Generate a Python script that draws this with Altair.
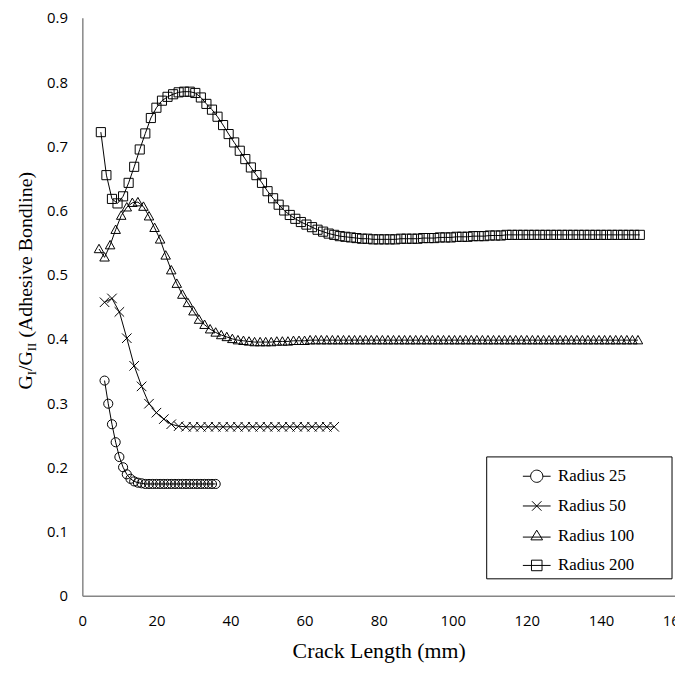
import altair as alt
import pandas as pd

names = ["Radius 25", "Radius 50", "Radius 100", "Radius 200"]

r25_x = [6, 7, 8, 9, 10, 11, 12, 13, 14, 15, 16, 17, 18, 19, 20, 21, 22, 23, 24, 25,
         26, 27, 28, 29, 30, 31, 32, 33, 34, 35, 36]
r25_y = [0.335, 0.299, 0.267, 0.239, 0.216, 0.200, 0.189, 0.182, 0.178, 0.176,
         0.175, 0.174, 0.174, 0.174, 0.174, 0.174, 0.174, 0.174, 0.174, 0.174,
         0.174, 0.174, 0.174, 0.174, 0.174, 0.174, 0.174, 0.174, 0.174, 0.174, 0.174]

r50_x = [6, 8, 10, 12, 14, 16, 18, 20, 22, 24, 26, 28, 30, 32, 34, 36, 38, 40, 42, 44,
         46, 48, 50, 52, 54, 56, 58, 60, 62, 64, 66, 68]
r50_y = [0.457, 0.463, 0.442, 0.401, 0.358, 0.326, 0.299, 0.285, 0.275, 0.267,
         0.264, 0.263, 0.263, 0.263, 0.263, 0.263, 0.263, 0.263, 0.263, 0.263,
         0.263, 0.263, 0.263, 0.263, 0.263, 0.263, 0.263, 0.263, 0.263, 0.263,
         0.263, 0.263]

r100_x = [4.5, 6, 7.5, 9, 10.5, 12, 13.5, 15, 16.5, 18,
          19.5, 21, 22.5, 24, 25.5, 27, 28.5, 30, 31.5, 33,
          34.5, 36, 37.5, 39, 40.5, 42, 43.5, 45, 46.5, 48,
          49.5, 51, 52.5, 54, 55.5, 57, 58.5, 60, 61.5, 63,
          64.5, 66, 67.5, 69, 70.5, 72, 73.5, 75, 76.5, 78,
          79.5, 81, 82.5, 84, 85.5, 87, 88.5, 90, 91.5, 93,
          94.5, 96, 97.5, 99, 100.5, 102, 103.5, 105, 106.5, 108,
          109.5, 111, 112.5, 114, 115.5, 117, 118.5, 120, 121.5, 123,
          124.5, 126, 127.5, 129, 130.5, 132, 133.5, 135, 136.5, 138,
          139.5, 141, 142.5, 144, 145.5, 147, 148.5, 150]
r100_y = [0.540, 0.527, 0.546, 0.570, 0.592, 0.605, 0.612, 0.613, 0.606, 0.591,
          0.573, 0.555, 0.530, 0.507, 0.486, 0.469, 0.456, 0.443, 0.430, 0.422,
          0.415, 0.410, 0.406, 0.403, 0.400, 0.398, 0.397, 0.396, 0.395, 0.395,
          0.395, 0.395, 0.396, 0.396, 0.396, 0.397, 0.397, 0.397, 0.398, 0.398,
          0.398, 0.398, 0.398, 0.398, 0.398, 0.398, 0.398, 0.398, 0.398, 0.398,
          0.398, 0.398, 0.398, 0.398, 0.398, 0.398, 0.398, 0.398, 0.398, 0.398,
          0.398, 0.398, 0.398, 0.398, 0.398, 0.398, 0.398, 0.398, 0.398, 0.398,
          0.398, 0.398, 0.398, 0.398, 0.398, 0.398, 0.398, 0.398, 0.398, 0.398,
          0.398, 0.398, 0.398, 0.398, 0.398, 0.398, 0.398, 0.398, 0.398, 0.398,
          0.398, 0.398, 0.398, 0.398, 0.398, 0.398, 0.398, 0.398]

r200_x = [5, 6.5, 8, 9.5, 11, 12.5, 14, 15.5, 17, 18.5,
          20, 21.5, 23, 24.5, 26, 27.5, 29, 30.5, 32, 33.5,
          35, 36.5, 38, 39.5, 41, 42.5, 44, 45.5, 47, 48.5,
          50, 51.5, 53, 54.5, 56, 57.5, 59, 60.5, 62, 63.5,
          65, 66.5, 68, 69.5, 71, 72.5, 74, 75.5, 77, 78.5,
          80, 81.5, 83, 84.5, 86, 87.5, 89, 90.5, 92, 93.5,
          95, 96.5, 98, 99.5, 101, 102.5, 104, 105.5, 107, 108.5,
          110, 111.5, 113, 114.5, 116, 117.5, 119, 120.5, 122, 123.5,
          125, 126.5, 128, 129.5, 131, 132.5, 134, 135.5, 137, 138.5,
          140, 141.5, 143, 144.5, 146, 147.5, 149, 150.5]
r200_y = [0.722, 0.655, 0.618, 0.611, 0.622, 0.643, 0.668, 0.695, 0.720, 0.744,
          0.760, 0.771, 0.777, 0.781, 0.784, 0.785, 0.785, 0.783, 0.776, 0.766,
          0.757, 0.746, 0.733, 0.719, 0.706, 0.693, 0.680, 0.667, 0.655, 0.643,
          0.630, 0.619, 0.609, 0.600, 0.593, 0.587, 0.582, 0.578, 0.574, 0.570,
          0.567, 0.564, 0.562, 0.560, 0.559, 0.558, 0.557, 0.556, 0.556, 0.555,
          0.555, 0.555, 0.555, 0.555, 0.556, 0.556, 0.556, 0.556, 0.557, 0.557,
          0.557, 0.558, 0.558, 0.558, 0.559, 0.559, 0.559, 0.560, 0.560, 0.560,
          0.561, 0.561, 0.561, 0.562, 0.562, 0.562, 0.562, 0.562, 0.562, 0.562,
          0.562, 0.562, 0.562, 0.562, 0.562, 0.562, 0.562, 0.562, 0.562, 0.562,
          0.562, 0.562, 0.562, 0.562, 0.562, 0.562, 0.562, 0.562]

x_ticks = [0, 20, 40, 60, 80, 100, 120, 140, 160]
y_ticks = [0, 0.1, 0.2, 0.3, 0.4, 0.5, 0.6, 0.7, 0.8, 0.9]

rows = []
for name, xs, ys in [(names[0], r25_x, r25_y), (names[1], r50_x, r50_y),
                     (names[2], r100_x, r100_y), (names[3], r200_x, r200_y)]:
    for a, b in zip(xs, ys):
        rows.append({"series": name, "x": a, "y": b})
df = pd.DataFrame(rows)

# marker outlines (unit = half of sqrt(size))
data_paths = [
    "M0.92,0A0.92,0.92,0,1,1,-0.92,0A0.92,0.92,0,1,1,0.92,0Z",
    "M-0.96,-0.96L0.96,0.96M-0.96,0.96L0.96,-0.96",
    "M-0.96,0.75L0,-0.95L0.96,0.75Z",
    "M-0.92,-0.92L0.92,-0.92L0.92,0.92L-0.92,0.92Z",
]
legend_paths = [
    "M-1,0L-0.44,0M0.44,0L1,0M0.44,0A0.44,0.44,0,1,1,-0.44,0A0.44,0.44,0,1,1,0.44,0Z",
    "M-1,0L1,0M-0.34,-0.34L0.34,0.34M-0.34,0.34L0.34,-0.34",
    "M-1,0.1L1,0.1M-0.42,0.3L0,-0.4L0.42,0.3Z",
    "M-1,0L1,0M-0.38,-0.38L0.38,-0.38L0.38,0.38L-0.38,0.38Z",
]

xenc = alt.X("x:Q", scale=alt.Scale(domain=[0, 160], nice=False),
             axis=alt.Axis(values=x_ticks, title="Crack Length (mm)", labelFlush=False,
                           labelPadding=18, titlePadding=12))
yenc = alt.Y("y:Q", scale=alt.Scale(domain=[0, 0.9], nice=False),
             axis=alt.Axis(values=y_ticks, title="", format="~g", labelPadding=15))

lines = alt.Chart(df).mark_line(color="black", strokeWidth=1).encode(
    x=xenc, y=yenc, detail="series:N")

points = alt.Chart(df).mark_point(filled=False, size=100, color="black",
                                  opacity=1, strokeWidth=1).encode(
    x=xenc, y=yenc,
    shape=alt.Shape("series:N", scale=alt.Scale(domain=names, range=data_paths), legend=None))

one = pd.DataFrame({"k": [0]})

# framed box behind the legend entries
legend_frame = alt.Chart(one).mark_rect(fill="white", stroke="black", strokeWidth=1).encode(
    x=alt.value(408), x2=alt.value(595), y=alt.value(443), y2=alt.value(566))

legend_layer = alt.Chart(df).transform_filter("false").mark_point(
    filled=False, size=784, color="black", opacity=1, strokeWidth=1).encode(
    x=xenc, y=yenc,
    shape=alt.Shape("series:N", scale=alt.Scale(domain=names, range=legend_paths),
                    legend=alt.Legend(orient="none", legendX=408, legendY=445, title=None,
                                      padding=3, strokeColor="transparent",
                                      fillColor="transparent",
                                      labelFont="Liberation Serif", labelFontSize=17,
                                      labelColor="black", symbolSize=784, labelLimit=300,
                                      symbolStrokeWidth=1, symbolStrokeColor="black",
                                      symbolOffset=33, labelOffset=7, rowPadding=7)))

TX, TY = -51, 375


def seg(txt, dx, dy, size):
    return alt.Chart(one).mark_text(text=txt, angle=270, align="left", baseline="alphabetic",
                                    dx=dx, dy=dy, font="Liberation Serif", fontSize=size,
                                    color="black").encode(x=alt.value(TX), y=alt.value(TY))


title_layers = [
    seg("G", 0, 0, 20),
    seg("I", 14.4, 4, 13),
    seg("/G", 18.7, 0, 20),
    seg("II", 38.7, 4, 13),
    seg("(Adhesive Bondline)", 52.4, 0, 20),
]

chart = alt.layer(lines, points, legend_frame, legend_layer, *title_layers).resolve_scale(
    shape="independent"
).properties(
    width=598, height=583,
    autosize=alt.AutoSizeParams(type="none"),
    padding={"left": 75, "top": 7, "right": 0, "bottom": 66},
).configure_view(stroke=None).configure_axis(
    grid=False, ticks=False, tickSize=0, domainColor="#868686", domainWidth=1.5,
    labelFont="Open Sans", labelFontSize=15, labelColor="black",
    titleFont="Liberation Serif", titleFontSize=22, titleFontWeight="normal",
    titleColor="black",
).configure_legend(strokeWidth=0)

chart.save("out.html", embed_options={"renderer": "svg", "actions": False})
